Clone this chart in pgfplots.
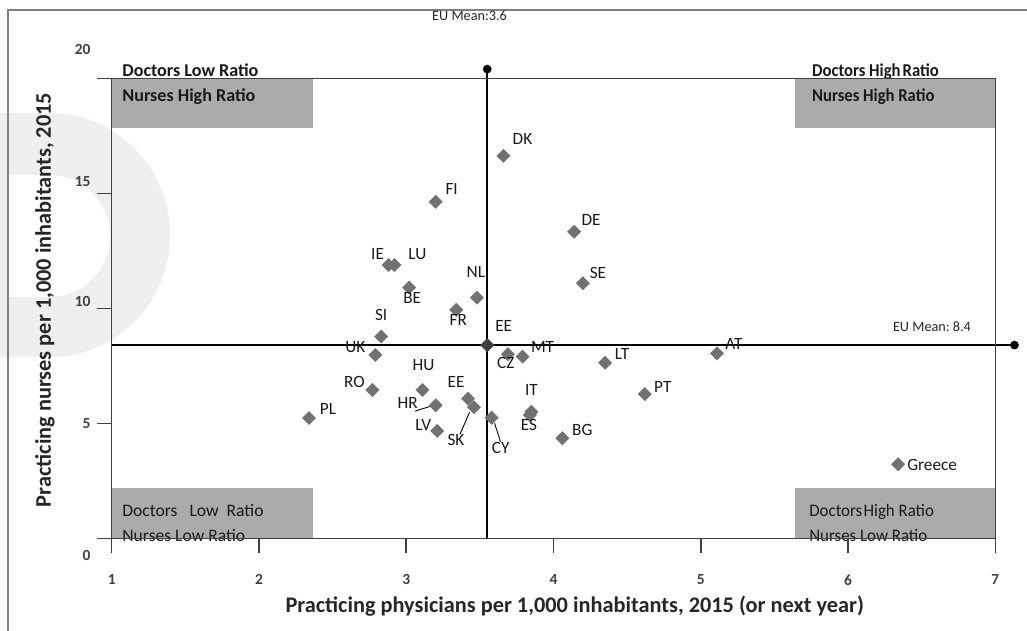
\documentclass[border=0pt]{standalone}
\usepackage{pgfplots}
\pgfplotsset{compat=1.18}
\usepackage{pgfplotstable}
\usepackage{fontspec}
\setmainfont{Carlito}

\definecolor{markgray}{HTML}{717171}
\definecolor{meangray}{HTML}{3F3F3F}
\definecolor{boxgray}{HTML}{ABABAB}
\definecolor{wmgray}{HTML}{EFEFEF}
\definecolor{axgray}{HTML}{404040}

\newcommand{\lift}[2]{\raisebox{#1}[\height][\depth]{#2}}

% physicians, nurses, label, label offset in px
\pgfplotstableread{
x y label dx dy
3.66 16.63 DK 19 17
3.20 14.63 FI 16 13
4.14 13.33 DE 17 12
2.88 11.88 IE -11 11
2.92 11.88 LU 23 11
3.48 10.46 NL -1 26
4.20 11.09 SE 15 10
3.02 10.90 BE 3 -10
3.34 9.93 FR 2 -10
2.83 8.77 SI 0 22
2.79 7.97 UK -20 8
3.69 8.00 CZ -2 -9
3.79 7.90 MT 20 10
4.35 7.63 LT 17 9
5.11 8.04 AT 17 9
4.62 6.27 PT 18 7
3.11 6.45 HU 1 25
2.77 6.45 RO -18 8
3.20 5.78 HR -28 2
3.42 6.07 EE -12 17
3.46 5.70 SK -18 -33
2.34 5.23 PL 19 9
3.21 4.67 LV -14 6
3.58 5.24 CY 9 -30
3.85 5.50 IT 0 22
3.84 5.36 ES -1 -10
4.06 4.35 BG 20 8
6.34 3.22 Greece 34 -1
}\countries

\begin{document}
\begin{tikzpicture}
% watermark and frame, in pixel units
\begin{scope}[x=0.02cm,y=-0.02cm,yshift=12.62cm]
  \fill[wmgray,even odd rule] (0,113) -- (50,113) arc[start angle=-90,end angle=90,x radius=120,y radius=122] -- (0,357) -- cycle
    (8,175) -- (50,175) arc[start angle=-90,end angle=90,x radius=60,y radius=61] -- (8,297) -- cycle;
  \draw[gray, line width=0.8pt] (8,640) -- (8,10) -- (1040,10);
\end{scope}

\begin{axis}[
  at={(2.234cm,1.854cm)}, anchor=south west,
  scale only axis, width=17.672cm, height=9.2cm,
  xmin=1, xmax=7, ymin=0, ymax=20,
  xtick={1,...,7}, ytick={0,5,...,20},
  yticklabels={\lift{-0.34cm}{0},5,\lift{0.13cm}{10},\lift{0.24cm}{15},\lift{0.58cm}{20}},
  clip=false, axis on top,
  axis line style={axgray, line width=0.9pt},
  tick style={axgray, line width=0.9pt},
  tick align=outside, xtick pos=lower, ytick pos=left,
  major tick length=0.3cm,
  ticklabel style={font=\bfseries\fontsize{8.8}{10}\selectfont, text=axgray},
  xticklabel style={yshift=-0.3cm},
  /pgf/number format/assume math mode=true,
  xlabel={Practicing physicians per 1,000 inhabitants, 2015 (or next year)},
  ylabel={Practicing nurses per 1,000 inhabitants, 2015},
  label style={font=\bfseries\fontsize{12.7}{14}\selectfont, text=black!85},
  xlabel style={at={(axis description cs:0.524,-0.147)}, anchor=center},
  ylabel style={at={(axis description cs:-0.0755,0.518)}, anchor=center},
]
% quadrant boxes
\fill[boxgray] (1,17.84) rectangle (2.367,20);
\fill[boxgray] (5.64,17.84) rectangle (7,20);
\fill[boxgray] (1,0) rectangle (2.367,2.19);
\fill[boxgray] (5.64,0) rectangle (7,2.19);
\begin{scope}[every node/.style={anchor=base west, inner sep=0pt, text=black!90}]
\node[font=\bfseries\fontsize{10.3}{12}\selectfont] at (1.07,20.06) {Doctors Low Ratio};
\node[font=\bfseries\fontsize{10.3}{12}\selectfont] at (1.07,18.97) {Nurses High Ratio};
\node[font=\bfseries\fontsize{10.3}{12}\selectfont, xscale=0.92] at (5.754,20.06) {Doctors High\hspace{0.12em}Ratio};
\node[font=\bfseries\fontsize{10.3}{12}\selectfont, xscale=0.92] at (5.754,18.97) {Nurses High Ratio};
\node[font=\fontsize{10}{12}\selectfont] at (1.07,0.93) {Doctors\hspace{0.24cm}Low\hspace{0.16cm}Ratio};
\node[font=\fontsize{10}{12}\selectfont] at (1.07,-0.16) {Nurses Low Ratio};
\node[font=\fontsize{10}{12}\selectfont, xscale=0.96] at (5.735,0.93) {Doctors\hspace{0.08em}High Ratio};
\node[font=\fontsize{10}{12}\selectfont, xscale=0.96] at (5.735,-0.16) {Nurses Low Ratio};
\end{scope}

% EU means
\addplot[black, line width=0.9pt, mark=*, mark size=2pt, mark indices={2}] coordinates {(3.55,0) (3.55,20.4)};
\addplot[black, line width=0.9pt, mark=*, mark size=2pt, mark indices={2}] coordinates {(1,8.4) (7.13,8.4)};
\node[font=\fontsize{8.1}{9}\selectfont, text=black!85] at (3.43,22.7) {EU Mean:3.6};
\node[font=\fontsize{8.1}{9}\selectfont, text=black!85] at (6.57,9.19) {EU Mean:\ 8.4};

% leader lines
\draw[black, line width=0.5pt] (3.06,5.53) -- (3.17,5.75);
\draw[black, line width=0.5pt] (3.365,4.52) -- (3.43,5.48);
\draw[black, line width=0.5pt] (3.60,5.0) -- (3.64,4.20);

% countries
\addplot[only marks, mark=square*, mark size=2.6pt,
  mark options={rotate=45, fill=markgray, draw=markgray},
  point meta=explicit symbolic, nodes near coords,
  visualization depends on={\thisrow{dx} \as \dx},
  visualization depends on={\thisrow{dy} \as \dy},
  every node near coord/.append style={anchor=center, inner sep=0pt,
    font=\fontsize{9.8}{11}\selectfont, text=black!90,
    xshift=\dx*0.02cm, yshift=\dy*0.02cm}]
  table[x=x, y=y, meta=label] {\countries};

% EU mean point
\addplot[only marks, mark=square*, mark size=2.6pt,
  mark options={rotate=45, fill=meangray, draw=meangray},
  point meta=explicit symbolic, nodes near coords,
  every node near coord/.append style={anchor=center, inner sep=0pt,
    font=\fontsize{9.8}{11}\selectfont, text=black!90,
    xshift=0.33cm, yshift=0.38cm}]
  coordinates {(3.55,8.4) [EE]};
\end{axis}
\pgfresetboundingbox
\path[use as bounding box] (0,0) rectangle (20.54cm,12.62cm);
\end{tikzpicture}
\end{document}
